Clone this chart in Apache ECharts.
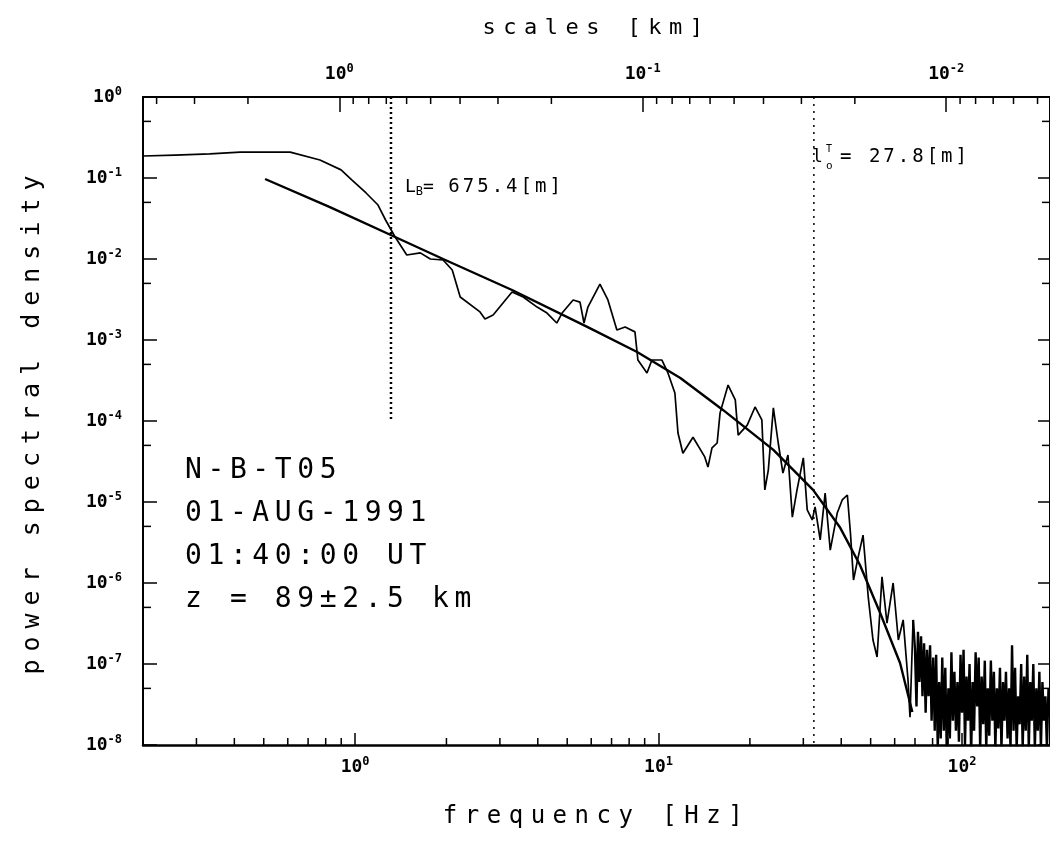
<!DOCTYPE html>
<html>
<head>
<meta charset="utf-8">
<script src="https://cdn.jsdelivr.net/npm/echarts@6.0.0/dist/echarts.min.js"></script>
<style>
html, body { margin: 0; padding: 0; background: #fff; }
#chart { width: 1050px; height: 841px; }
</style>
</head>
<body>
<div id="chart"></div>
<script>
// ---------- data ----------
// measured power spectrum, low/mid frequencies: [frequency Hz, psd]
const spectrum = [
  [0.20,0.187],[0.255,0.192],[0.332,0.198],[0.418,0.209],[0.611,0.209],[0.766,0.167],
  [0.899,0.126],[0.977,0.0944],[1.087,0.0653],[1.19,0.0464],[1.26,0.0303],[1.355,0.0187],
  [1.48,0.0112],[1.64,0.0119],[1.77,0.0100],[1.95,0.00972],[2.09,0.00731],[2.22,0.0034],
  [2.58,0.00222],[2.68,0.00182],[2.85,0.00204],[3.29,0.00392],[3.58,0.0034],[3.98,0.00255],
  [4.29,0.00215],[4.62,0.00162],[4.81,0.00215],[5.23,0.00312],[5.51,0.00294],[5.68,0.00162],
  [5.85,0.00255],[6.41,0.00491],[6.81,0.00312],[7.29,0.00133],[7.76,0.00145],[8.36,0.00126],
  [8.55,0.000566],[9.16,0.000392],[9.51,0.000566],[10.26,0.000566],[10.74,0.000392],
  [11.32,0.000222],[11.59,7.1e-5],[12.03,4.0e-5],[12.99,6.3e-5],[14.2,3.6e-5],[14.55,2.7e-5],
  [15.0,4.65e-5],[15.6,5.35e-5],[15.95,1.26e-4],[16.95,2.78e-4],[17.9,1.82e-4],[18.3,6.7e-5],
  [19.6,8.9e-5],[20.8,1.49e-4],[21.9,1.03e-4],[22.4,1.41e-5],[23.0,2.48e-5],[23.9,1.45e-4],
  [24.8,5.35e-5],[25.7,2.28e-5],[26.7,3.8e-5],[27.6,6.5e-6],[28.6,1.41e-5],[30.0,3.5e-5],
  [30.9,8.0e-6],[32.1,6.0e-6],[32.8,8.7e-6],[34.1,3.4e-6],[35.4,1.29e-5],[36.8,2.55e-6],
  [38.8,7.3e-6],[40.3,1.06e-5],[41.9,1.22e-5],[42.9,4.1e-6],[43.9,1.09e-6],[45.5,2.1e-6],
  [47.2,3.9e-6],[49.1,6.7e-7],[50.9,1.98e-7],[52.5,1.22e-7],[54.5,1.19e-6],[56.6,3.2e-7],
  [59.3,1.0e-6],[61.7,1.98e-7],[64.0,3.5e-7],[66.4,6.3e-8],[67.4,2.2e-8],[69.0,3.5e-7]
];
// measured power spectrum, noise floor at high frequencies: [frequency Hz, psd]
const spectrumNoise = [
  [69.0,3.5e-7],
  [70.0,1.5e-7],[70.8,3e-8],[71.6,2.5e-7],[72.4,6e-8],[73.3,2.2e-7],[74.1,4e-8],[75.0,1.8e-7],
  [75.9,2.5e-8],[76.7,1.5e-7],[77.6,4e-8],[78.5,1.7e-7],[79.4,2e-8],[80.4,1.2e-7],[81.3,1.5e-8],
  [82.2,1.3e-7],[83.2,9e-9],[84.1,6e-8],[85.1,1.2e-8],[86.1,1.2e-7],[87.1,1.5e-8],[88.1,9e-8],
  [89.1,8e-9],[90.2,5e-8],[91.2,1.2e-8],[92.3,1.4e-7],[93.3,2e-8],[94.4,8e-8],[95.5,1.5e-8],
  [96.6,6e-8],[97.7,1.1e-8],[98.9,1.3e-7],[100,2.5e-8],[101.2,1.5e-7],[102.3,1e-8],[103.5,7e-8],
  [104.7,2e-8],[105.9,1.0e-7],[107.2,8e-9],[108.4,6e-8],[109.6,1.5e-8],[110.9,1.4e-7],[112.2,3e-8],
  [113.5,1.2e-7],[114.8,9e-9],[116.1,7e-8],[117.5,1.8e-8],[118.9,1.1e-7],[120.2,9e-9],[121.6,5e-8],
  [123.0,1.3e-8],[124.5,1.1e-7],[125.9,2e-8],[127.4,8e-8],[128.8,9e-9],[130.3,5e-8],[131.8,1.6e-8],
  [133.4,9e-8],[134.9,9e-9],[136.5,6e-8],[138.0,2e-8],[139.6,8e-8],[141.3,1.2e-8],[142.9,5e-8],
  [144.5,9e-9],[146.2,1.7e-7],[147.9,1.5e-8],[149.6,9e-8],[151.4,9e-9],[153.1,4e-8],[154.9,1.8e-8],
  [156.7,1.0e-7],[158.5,9e-9],[160.3,7e-8],[162.2,1.5e-8],[164.1,1.3e-7],[166.0,9e-9],[167.9,6e-8],
  [169.8,2e-8],[171.8,1.0e-7],[173.8,9e-9],[175.8,5e-8],[177.8,1.5e-8],[179.9,8e-8],[182.0,9e-9],
  [184.1,6e-8],[186.2,2e-8],[188.4,4e-8],[190.5,9e-9],[192.8,5e-8],[195.0,3e-8]
];
// fitted model spectrum: [frequency Hz, psd]
const fitCurve = [
  [0.505,0.0972],[0.826,0.0438],[1.355,0.0187],[1.95,0.0100],[3.29,0.00414],[5.82,0.00145],
  [8.50,7.1e-4],[11.8,3.4e-4],[16.3,1.37e-4],[23.9,4.4e-5],[32.3,1.41e-5],[39.7,4.8e-6],
  [46.1,1.67e-6],[53.7,4.3e-7],[62.5,1.03e-7],[68.6,2.55e-8]
];
// vertical markers: buoyancy scale and inner scale
const markerLB = [[1.313, 1], [1.313, 1e-4]];
const markerL0 = [[32.5, 1], [32.5, 1e-8]];

// axis ranges & ticks
const freqRange = [0.2, 195];
const psdRange = [1e-8, 1];
const scaleVelocity = 0.887; // km/s : scale [km] = v / f
const freqMinorTicks = [0.3,0.4,0.5,0.6,0.7,0.8,0.9,2,3,4,5,6,7,8,9,20,30,40,50,60,70,80,90];
const kmMinorTicks = [4,3,2,0.9,0.8,0.7,0.6,0.5,0.4,0.3,0.2,0.09,0.08,0.07,0.06,0.05,0.04,0.03,0.02,0.009,0.008,0.007,0.006,0.005];
const psdMinorTicks = [5e-1,5e-2,5e-3,5e-4,5e-5,5e-6,5e-7,5e-8];

// texts
const infoLines = ['N-B-T05', '01-AUG-1991', '01:40:00 UT', 'z = 89\u00b12.5 km'];

// ---------- plotter-like letter spacing for the large texts (canvas) ----------
(function () {
  const proto = CanvasRenderingContext2D.prototype;
  if (!('letterSpacing' in proto)) return;
  const spacing = { 24: '7.5px', 25: '8px', 22: '7.5px', 28: '5.6px', 19: '3px' };
  const orig = proto.fillText;
  proto.fillText = function (t, x, y, w) {
    const m = /(\d+(?:\.\d+)?)px/.exec(this.font || '');
    this.letterSpacing = (m && spacing[Math.round(+m[1])]) || '0px';
    return w === undefined ? orig.call(this, t, x, y) : orig.call(this, t, x, y, w);
  };
})();

// ---------- chart ----------
const FONT = '"DejaVu Sans Mono", monospace';
const chart = echarts.init(document.getElementById('chart'), null, { renderer: 'canvas' });

function powLabel(v) {
  const e = Math.log10(v);
  const r = Math.round(e);
  if (Math.abs(e - r) > 1e-6) return '';
  return '{b|10}{e|' + r + '}';
}
const labelRich = {
  b: { fontSize: 18, fontFamily: FONT, fontWeight: 'bold', color: '#000', lineHeight: 22 },
  e: { fontSize: 12, fontFamily: FONT, fontWeight: 'bold', color: '#000', lineHeight: 10, verticalAlign: 'top' }
};
const axisLineStyle = { show: true, lineStyle: { color: '#000', width: 2 } };

function tickSeries(data, xi, dx, dy) {
  return {
    type: 'custom', xAxisIndex: xi, yAxisIndex: 0, silent: true, clip: false, z: 5,
    data: data,
    renderItem: function (params, api) {
      const p = api.coord([api.value(0), api.value(1)]);
      return { type: 'line', shape: { x1: p[0], y1: p[1], x2: p[0] + dx, y2: p[1] + dy },
               style: { stroke: '#000', lineWidth: 1.5 } };
    }
  };
}

const option = {
  animation: false,
  backgroundColor: '#fff',
  grid: { left: 143, top: 97, right: 0, bottom: 96, outerBoundsMode: 'none' },
  xAxis: [
    {
      type: 'log', min: freqRange[0], max: freqRange[1], position: 'bottom',
      name: 'frequency [Hz]', nameLocation: 'middle', nameGap: 60,
      nameTextStyle: { fontSize: 24, fontFamily: FONT, color: '#000' },
      axisLine: { show: true, lineStyle: { color: '#000', width: 2.5 } },
      axisTick: { show: true, inside: true, length: 12, lineStyle: { color: '#000', width: 1.5 } },
      axisLabel: { formatter: powLabel, rich: labelRich, margin: 11 },
      splitLine: { show: false }
    },
    {
      type: 'log', inverse: true, position: 'top',
      min: scaleVelocity / freqRange[1], max: scaleVelocity / freqRange[0],
      name: 'scales [km]', nameLocation: 'middle', nameGap: 58,
      nameTextStyle: { fontSize: 22, fontFamily: FONT, color: '#000' },
      axisLine: axisLineStyle,
      axisTick: { show: true, inside: true, length: 15, lineStyle: { color: '#000', width: 1.5 } },
      axisLabel: { formatter: powLabel, rich: labelRich, margin: 12 },
      splitLine: { show: false }
    }
  ],
  yAxis: [
    {
      type: 'log', min: psdRange[0], max: psdRange[1], position: 'left',
      name: 'power spectral density', nameLocation: 'middle', nameGap: 98,
      nameTextStyle: { fontSize: 25, fontFamily: FONT, color: '#000' },
      axisLine: axisLineStyle,
      axisTick: { show: true, inside: true, length: 14, lineStyle: { color: '#000', width: 1.5 } },
      axisLabel: { formatter: powLabel, rich: labelRich, margin: 21 },
      splitLine: { show: false }
    },
    {
      type: 'log', min: psdRange[0], max: psdRange[1], position: 'right',
      axisLine: axisLineStyle,
      axisTick: { show: true, inside: true, length: 12, lineStyle: { color: '#000', width: 1.5 } },
      axisLabel: { show: false },
      splitLine: { show: false }
    }
  ],
  series: [
    { type: 'line', data: spectrum, showSymbol: false, symbol: 'none', silent: true,
      lineStyle: { color: '#000', width: 1.7 } },
    { type: 'line', data: spectrumNoise, showSymbol: false, symbol: 'none', silent: true,
      lineStyle: { color: '#000', width: 2.4 } },
    { type: 'line', data: fitCurve, showSymbol: false, symbol: 'none', silent: true,
      lineStyle: { color: '#000', width: 2.4 } },
    { type: 'line', data: markerLB, showSymbol: false, symbol: 'none', silent: true,
      lineStyle: { color: '#000', width: 2.5, type: [2, 3] } },
    { type: 'line', data: markerL0, showSymbol: false, symbol: 'none', silent: true,
      lineStyle: { color: '#000', width: 1.5, type: [2, 5] } },
    tickSeries(freqMinorTicks.map(v => [v, psdRange[0]]), 0, 0, -7),
    tickSeries(kmMinorTicks.map(v => [v, psdRange[1]]), 1, 0, 7),
    tickSeries(psdMinorTicks.map(v => [freqRange[0], v]), 0, 8, 0),
    tickSeries(psdMinorTicks.map(v => [freqRange[1], v]), 0, -8, 0)
  ],
  graphic: [
    ...infoLines.map((t, i) => ({
      type: 'text', x: 185, y: 471 + i * 43, silent: true,
      style: { text: t, fontSize: 28, fontFamily: FONT, fill: '#000', verticalAlign: 'middle' }
    })),
    {
      type: 'text', x: 405, y: 187, silent: true,
      style: {
        text: '{a|L}{s|B}{a|=}{v| 675.4[m]}', fill: '#000', verticalAlign: 'middle',
        rich: {
          a: { fontSize: 18, fontFamily: FONT, color: '#000', lineHeight: 22 },
          s: { fontSize: 12, fontFamily: FONT, color: '#000', verticalAlign: 'bottom', lineHeight: 15 },
          v: { fontSize: 19, fontFamily: FONT, color: '#000', lineHeight: 22 }
        }
      }
    },
    { type: 'text', x: 812, y: 157, silent: true,
      style: { text: 'l', fontSize: 18, fontFamily: FONT, fill: '#000', verticalAlign: 'middle' } },
    { type: 'text', x: 826, y: 149, silent: true,
      style: { text: 'T', fontSize: 10, fontFamily: FONT, fill: '#000', verticalAlign: 'middle' } },
    { type: 'text', x: 826, y: 166, silent: true,
      style: { text: 'o', fontSize: 11, fontFamily: FONT, fill: '#000', verticalAlign: 'middle' } },
    { type: 'text', x: 840, y: 157, silent: true,
      style: { text: '= 27.8[m]', fontSize: 19, fontFamily: FONT, fill: '#000', verticalAlign: 'middle' } }
  ]
};
chart.setOption(option);
</script>
</body>
</html>
